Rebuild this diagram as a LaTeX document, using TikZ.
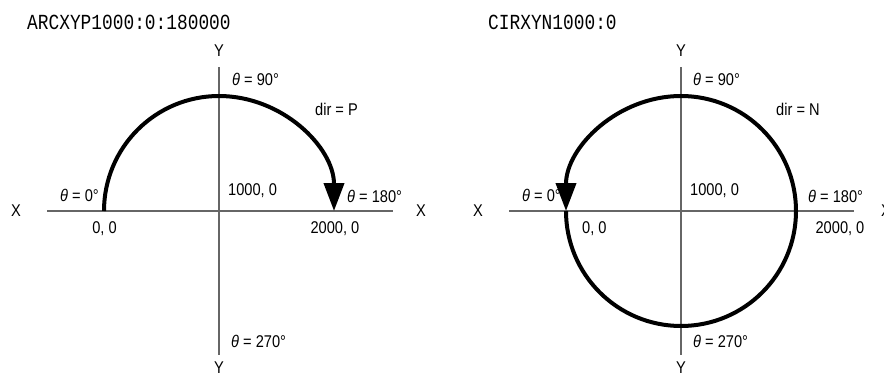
\documentclass[tikz,border=0pt]{standalone}
\usepackage{fontspec}
\setmainfont{Liberation Sans}[FakeStretch=0.86]
\newfontfamily\titlefont{Liberation Mono}[FakeStretch=0.83]
\usetikzlibrary{arrows.meta}
\begin{document}
\begin{tikzpicture}[x=1pt,y=1pt,
  axis/.style={draw=black!60, line width=1.1pt},
  pathline/.style={line width=4pt, -{Triangle[length=28pt,width=20pt]}},
  lbl/.style={font=\fontsize{17}{17}\selectfont, inner sep=0pt},
  ttl/.style={font=\titlefont\fontsize{21.5}{21.5}\selectfont, inner sep=0pt, anchor=west}]
\useasboundingbox (0,0) rectangle (884,376);
% ---------- left diagram ----------
\coordinate (L) at (219,165);
\coordinate (Lxl) at (47,165);
\coordinate (Lxr) at (393,165);
\coordinate (Lyt) at (219,309);
\coordinate (Lyb) at (219,21);
\draw[axis] (Lxl) -- (Lxr);
\draw[axis] (Lyt) -- (Lyb);
\coordinate (Lstart) at (104,165);
\draw[pathline] (Lstart) arc[start angle=180, end angle=0, radius=115];
\node[ttl] (Ltitle) at (27,354) {ARCXYP1000:0:180000};
\node[lbl] (LYt) at (219,325) {Y};
\node[lbl] (LYb) at (219,8) {Y};
\node[lbl] (LXl) at (16,165) {X};
\node[lbl] (LXr) at (421,165) {X};
\node[lbl,anchor=west] (L90) at (232,297) {\textit{θ} = 90°};
\node[lbl,anchor=west] (Ldir) at (315,267) {dir = P};
\node[lbl,anchor=east] (L0) at (99,181) {\textit{θ} = 0°};
\node[lbl,anchor=west] (Lc) at (228,185) {1000, 0};
\node[lbl,anchor=west] (L180) at (347,180) {\textit{θ} = 180°};
\node[lbl] (Lp0) at (104.5,147) {0, 0};
\node[lbl] (Lp2) at (335,147) {2000, 0};
\node[lbl,anchor=west] (L270) at (231,35) {\textit{θ} = 270°};
% ---------- right diagram ----------
\coordinate (R) at (681,165);
\coordinate (Rxl) at (509,165);
\coordinate (Rxr) at (854,165);
\coordinate (Ryt) at (681,309);
\coordinate (Ryb) at (681,21);
\draw[axis] (Rxl) -- (Rxr);
\draw[axis] (Ryt) -- (Ryb);
\coordinate (Rstart) at (566,165);
\draw[pathline] (Rstart) arc[start angle=180, end angle=540, radius=115];
\node[ttl] (Rtitle) at (488,354) {CIRXYN1000:0};
\node[lbl] (RYt) at (681,325) {Y};
\node[lbl] (RYb) at (681,8) {Y};
\node[lbl] (RXl) at (478,165) {X};
\node[lbl] (RXr) at (886,165) {X};
\node[lbl,anchor=west] (R90) at (693,297) {\textit{θ} = 90°};
\node[lbl,anchor=west] (Rdir) at (776,267) {dir = N};
\node[lbl,anchor=east] (R0) at (561,181) {\textit{θ} = 0°};
\node[lbl,anchor=west] (Rc) at (690,185) {1000, 0};
\node[lbl,anchor=west] (R180) at (808,180) {\textit{θ} = 180°};
\node[lbl,anchor=west] (Rp0) at (582,147) {0, 0};
\node[lbl] (Rp2) at (840,147) {2000, 0};
\node[lbl,anchor=west] (R270) at (693,35) {\textit{θ} = 270°};
\end{tikzpicture}
\end{document}
